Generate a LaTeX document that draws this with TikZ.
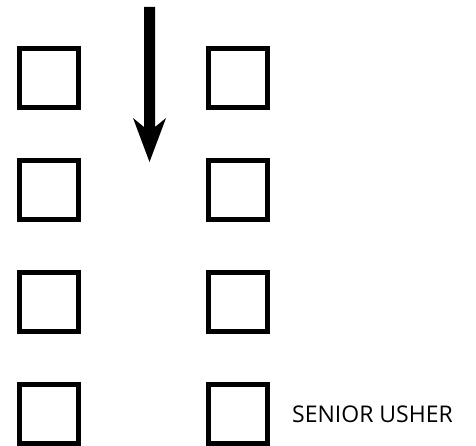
\documentclass[tikz,border=0pt]{standalone}
\usepackage{fontspec}
\setmainfont{Open Sans}
\begin{document}
\begin{tikzpicture}[x=1pt,y=-1pt,
  seat/.style={draw=black,line width=5pt,minimum size=59pt,inner sep=0pt,fill=white},
  lbl/.style={font=\fontsize{23}{27}\selectfont,inner sep=0pt,anchor=base west}]
\useasboundingbox (0,0) rectangle (476,446);
\foreach \r/\y in {1/78,2/190,3/302,4/414}{
  \node[seat] (l\r) at (49,\y) {};
  \node[seat] (r\r) at (238,\y) {};
}
\node[lbl] (senior) at (292,422) {SENIOR USHER};
\coordinate (atop) at (149.5,7);
\coordinate (atip) at (149.5,162);
\fill[black] ([xshift=-5.5pt]atop) -- ([xshift=5.5pt]atop) -- (155,127) -- (166,118) -- (atip) -- (133,118) -- (144,127) -- cycle;
\end{tikzpicture}
\end{document}
